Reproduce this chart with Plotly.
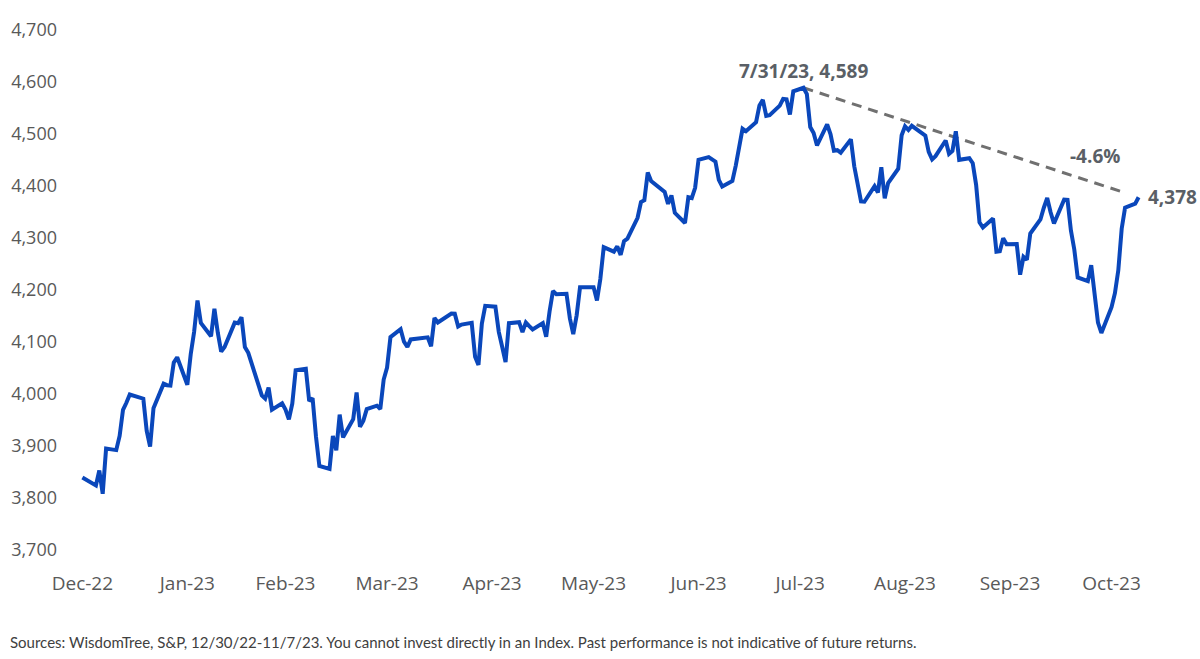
import plotly.graph_objects as go
import pandas as pd

# S&P 500 daily closes, 12/30/22 - 11/7/23
dates = [
 "2022-12-30",
 "2023-01-03","2023-01-04","2023-01-05","2023-01-06","2023-01-09","2023-01-10","2023-01-11","2023-01-12","2023-01-13",
 "2023-01-17","2023-01-18","2023-01-19","2023-01-20","2023-01-23","2023-01-24","2023-01-25","2023-01-26","2023-01-27",
 "2023-01-30","2023-01-31","2023-02-01","2023-02-02","2023-02-03","2023-02-06","2023-02-07","2023-02-08","2023-02-09",
 "2023-02-10","2023-02-13","2023-02-14","2023-02-15","2023-02-16","2023-02-17","2023-02-21","2023-02-22","2023-02-23",
 "2023-02-24","2023-02-27","2023-02-28","2023-03-01","2023-03-02","2023-03-03","2023-03-06","2023-03-07","2023-03-08",
 "2023-03-09","2023-03-10","2023-03-13","2023-03-14","2023-03-15","2023-03-16","2023-03-17","2023-03-20","2023-03-21",
 "2023-03-22","2023-03-23","2023-03-24","2023-03-27","2023-03-28","2023-03-29","2023-03-30","2023-03-31","2023-04-03",
 "2023-04-04","2023-04-05","2023-04-06","2023-04-10","2023-04-11","2023-04-12","2023-04-13","2023-04-14","2023-04-17",
 "2023-04-18","2023-04-19","2023-04-20","2023-04-21","2023-04-24","2023-04-25","2023-04-26","2023-04-27","2023-04-28",
 "2023-05-01","2023-05-02","2023-05-03","2023-05-04","2023-05-05","2023-05-08","2023-05-09","2023-05-10","2023-05-11",
 "2023-05-12","2023-05-15","2023-05-16","2023-05-17","2023-05-18","2023-05-19","2023-05-22","2023-05-23","2023-05-24",
 "2023-05-25","2023-05-26","2023-05-30","2023-05-31","2023-06-01","2023-06-02","2023-06-05","2023-06-06","2023-06-07",
 "2023-06-08","2023-06-09","2023-06-12","2023-06-13","2023-06-14","2023-06-15","2023-06-16","2023-06-20","2023-06-21",
 "2023-06-22","2023-06-23","2023-06-26","2023-06-27","2023-06-28","2023-06-29","2023-06-30","2023-07-03","2023-07-05",
 "2023-07-06","2023-07-07","2023-07-10","2023-07-11","2023-07-12","2023-07-13","2023-07-14","2023-07-17","2023-07-18",
 "2023-07-19","2023-07-20","2023-07-21","2023-07-24","2023-07-25","2023-07-26","2023-07-27","2023-07-28","2023-07-31",
 "2023-08-01","2023-08-02","2023-08-03","2023-08-04","2023-08-07","2023-08-08","2023-08-09","2023-08-10","2023-08-11",
 "2023-08-14","2023-08-15","2023-08-16","2023-08-17","2023-08-18","2023-08-21","2023-08-22","2023-08-23","2023-08-24",
 "2023-08-25","2023-08-28","2023-08-29","2023-08-30","2023-08-31","2023-09-01","2023-09-05","2023-09-06","2023-09-07",
 "2023-09-08","2023-09-11","2023-09-12","2023-09-13","2023-09-14","2023-09-15","2023-09-18","2023-09-19","2023-09-20",
 "2023-09-21","2023-09-22","2023-09-25","2023-09-26","2023-09-27","2023-09-28","2023-09-29","2023-10-02","2023-10-03",
 "2023-10-04","2023-10-05","2023-10-06","2023-10-09","2023-10-10","2023-10-11","2023-10-12","2023-10-13","2023-10-16",
 "2023-10-17","2023-10-18","2023-10-19","2023-10-20","2023-10-23","2023-10-24","2023-10-25","2023-10-26","2023-10-27",
 "2023-10-30","2023-10-31","2023-11-01","2023-11-02","2023-11-03","2023-11-06","2023-11-07",
]
values = [
 3839.50,
 3824.14,3852.97,3808.10,3895.08,3892.09,3919.25,3969.61,3983.17,3999.09,
 3990.97,3928.86,3898.85,3972.61,4019.81,4016.95,4016.22,4060.43,4070.56,
 4017.77,4076.60,4119.21,4179.76,4136.48,4111.08,4164.00,4117.86,4081.50,
 4090.46,4137.29,4136.13,4147.60,4090.41,4079.09,3997.34,3991.05,4012.32,
 3970.04,3982.24,3970.15,3951.39,3981.35,4045.64,4048.42,3986.37,3992.01,
 3918.32,3861.59,3855.76,3919.29,3891.93,3960.28,3916.64,3951.57,4002.87,
 3936.97,3948.72,3970.99,3977.53,3971.27,4027.81,4050.83,4109.31,4124.51,
 4100.60,4090.38,4105.02,4109.11,4108.94,4091.95,4146.22,4137.64,4151.32,
 4154.87,4154.52,4129.79,4133.52,4137.04,4071.63,4055.99,4135.35,4169.48,
 4167.87,4119.58,4090.75,4061.22,4136.25,4138.12,4119.17,4137.64,4130.62,
 4124.08,4136.28,4109.90,4158.77,4198.05,4191.98,4192.63,4145.58,4115.24,
 4151.28,4205.45,4205.52,4179.83,4221.02,4282.37,4273.79,4283.85,4267.52,
 4293.93,4298.86,4338.93,4369.01,4372.59,4425.84,4409.59,4388.71,4365.69,
 4381.89,4348.33,4328.82,4378.41,4376.86,4396.44,4450.38,4455.59,4446.82,
 4411.59,4398.95,4409.53,4439.26,4472.16,4510.04,4505.42,4522.79,4554.98,
 4565.72,4534.87,4536.34,4554.64,4567.46,4566.75,4537.41,4582.23,4588.96,
 4576.73,4513.39,4501.89,4478.03,4518.44,4499.38,4467.71,4468.83,4464.05,
 4489.72,4437.86,4404.33,4370.36,4369.71,4399.77,4387.55,4436.01,4376.31,
 4405.71,4433.31,4497.63,4514.87,4507.66,4515.77,4496.83,4465.48,4451.14,
 4457.49,4487.46,4461.90,4467.44,4505.10,4450.32,4453.53,4443.95,4402.20,
 4330.00,4320.06,4337.44,4273.53,4274.51,4299.70,4288.05,4288.39,4229.45,
 4263.75,4258.19,4308.50,4335.66,4358.24,4376.95,4349.61,4327.78,4373.63,
 4373.20,4314.60,4278.00,4224.16,4217.04,4247.68,4186.77,4137.23,4117.37,
 4166.82,4193.80,4237.86,4317.78,4358.34,4365.98,4378.38,
]

tick_dates = ["2022-12-30","2023-01-30","2023-02-28","2023-03-30","2023-04-30","2023-05-30",
              "2023-06-30","2023-07-30","2023-08-30","2023-09-30","2023-10-30"]
tick_labels = ["Dec-22","Jan-23","Feb-23","Mar-23","Apr-23","May-23",
               "Jun-23","Jul-23","Aug-23","Sep-23","Oct-23"]
y_ticks = [3700, 3800, 3900, 4000, 4100, 4200, 4300, 4400, 4500, 4600, 4700]
footer = ("Sources: WisdomTree, S&P, 12/30/22-11/7/23. You cannot invest directly in an Index. "
          "Past performance is not indicative of future returns.")

d = pd.to_datetime(dates)
peak_i = max(range(len(values)), key=lambda i: values[i])
peak_d, peak_v = d[peak_i], values[peak_i]
last_d, last_v = d[-1], values[-1]
pct = (last_v / peak_v - 1) * 100

# dashed trend from the peak toward the last point (stops just short of it)
frac = 0.96
end_d = peak_d + (last_d - peak_d) * frac
end_v = peak_v + (last_v - peak_v) * frac
lab_frac = 0.87
lab_d = peak_d + (last_d - peak_d) * lab_frac
lab_v = peak_v + (last_v - peak_v) * lab_frac

BLUE = "#0a47bb"
GRAY = "#595959"
ANN = "#5a5f66"

fig = go.Figure()
fig.add_trace(go.Scatter(x=[peak_d, end_d], y=[peak_v, end_v], mode="lines",
                         line=dict(color="#707070", width=3, dash="10px,7px"),
                         hoverinfo="skip", showlegend=False))
fig.add_trace(go.Scatter(x=d, y=values, mode="lines",
                         line=dict(color=BLUE, width=4), showlegend=False))

fig.add_annotation(x=peak_d, y=peak_v,
                   text=f"{peak_d.month}/{peak_d.day}/{peak_d.strftime('%y')}, {peak_v:,.0f}",
                   showarrow=False, xanchor="center", yanchor="bottom", yshift=2,
                   font=dict(family="Open Sans", size=19, color=ANN, weight="bold"))
fig.add_annotation(x=last_d, y=last_v, text=f"{last_v:,.0f}", showarrow=False,
                   xanchor="left", yanchor="middle", xshift=7,
                   font=dict(family="Open Sans", size=19, color=ANN, weight="bold"))
fig.add_annotation(x=lab_d, y=lab_v, text=f"{pct:.1f}%", showarrow=False,
                   xanchor="center", yanchor="bottom", yshift=12,
                   font=dict(family="Open Sans", size=19, color=ANN, weight="bold"))
fig.add_annotation(xref="paper", yref="paper", x=-0.0664, y=-0.1763, text=footer,
                   showarrow=False, xanchor="left", yanchor="middle",
                   font=dict(family="Lato", size=15, color="#404040"))

fig.update_layout(
    width=1200, height=659,
    margin=dict(l=79, r=58, t=30, b=109),
    paper_bgcolor="white", plot_bgcolor="white",
    font=dict(family="Open Sans", size=18, color=GRAY),
    xaxis=dict(type="date",
               range=[d[0] - pd.Timedelta(days=1), d[-1] + pd.Timedelta(days=1)],
               tickvals=pd.to_datetime(tick_dates), ticktext=tick_labels,
               showgrid=False, zeroline=False, showline=False, ticks="",
               ticklabelstandoff=20, tickfont=dict(size=19, color=GRAY)),
    yaxis=dict(range=[3700, 4700], tickvals=y_ticks,
               ticktext=[f"{v:,}" for v in y_ticks],
               showgrid=False, zeroline=False, showline=False, ticks="",
               ticklabelstandoff=21, tickfont=dict(size=18, color=GRAY)),
    showlegend=False,
)

fig.write_html("out.html", config={"displayModeBar": False},
               post_script="document.body.style.margin='0';")
